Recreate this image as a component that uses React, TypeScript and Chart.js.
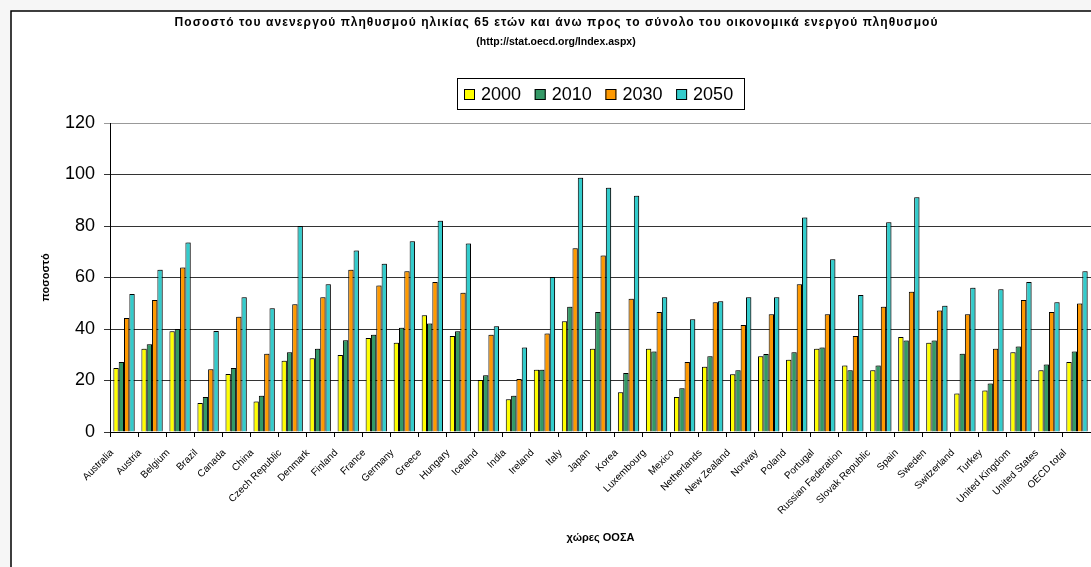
import React, { useEffect, useRef } from "react";
import { Chart, registerables } from "chart.js";

Chart.register(...registerables);

const titleLine1 =
  "Ποσοστό του ανενεργού πληθυσμού ηλικίας 65 ετών και άνω προς το σύνολο του οικονομικά ενεργού πληθυσμού";
const titleLine2 = "(http://stat.oecd.org/Index.aspx)";
const yTitle = "ποσοστό";
const xTitle = "χώρες ΟΟΣΑ";

const categories = [
  "Australia", "Austria", "Belgium", "Brazil", "Canada", "China", "Czech Republic",
  "Denmark", "Finland", "France", "Germany", "Greece", "Hungary", "Iceland", "India",
  "Ireland", "Italy", "Japan", "Korea", "Luxembourg", "Mexico", "Netherlands",
  "New Zealand", "Norway", "Poland", "Portugal", "Russian Federation", "Slovak Republic",
  "Spain", "Sweden", "Switzerland", "Turkey", "United Kingdom", "United States", "OECD total",
];

const seriesNames = ["2000", "2010", "2030", "2050"];

const values2000 = [
  24.9, 32.3, 39.1, 11.3, 22.5, 11.8, 27.7, 28.6, 29.9, 36.5, 34.7, 45.3, 37.3, 20.2, 12.7,
  24.2, 43.0, 32.3, 15.4, 32.3, 13.6, 25.3, 22.4, 29.4, 28.1, 32.3, 25.8, 24.0, 36.9, 34.7,
  15.0, 16.1, 31.0, 24.0, 27.2,
];
const values2010 = [
  27.2, 34.1, 40.0, 13.6, 24.9, 14.1, 31.0, 32.3, 35.6, 37.8, 40.5, 42.1, 39.1, 22.0, 14.1,
  24.2, 48.6, 46.6, 22.9, 31.3, 17.0, 29.4, 24.0, 30.3, 31.0, 32.8, 24.0, 25.8, 35.5, 35.5,
  30.4, 18.8, 33.2, 26.2, 31.3,
];
const values2030 = [
  44.3, 51.3, 63.9, 24.4, 44.8, 30.4, 49.6, 52.3, 63.0, 56.9, 62.4, 58.3, 54.1, 37.8, 20.6,
  38.3, 71.4, 68.5, 51.7, 46.6, 27.2, 50.4, 41.6, 45.7, 57.4, 45.7, 37.3, 48.6, 54.5, 47.2,
  45.7, 32.3, 51.3, 46.6, 49.9,
];
const values2050 = [
  53.6, 63.0, 73.6, 39.2, 52.3, 48.1, 80.0, 57.4, 70.5, 65.3, 74.1, 82.0, 73.2, 41.1, 32.8,
  60.2, 98.7, 94.9, 91.7, 52.3, 43.8, 50.8, 52.3, 52.3, 83.3, 67.1, 53.2, 81.5, 91.2, 49.0,
  56.0, 55.4, 58.3, 50.4, 62.4,
];

const seriesColors = ["#FFFF00", "#339966", "#FF9900", "#33CCCC"];

const yTicks = [0, 20, 40, 60, 80, 100, 120];

function fitText(ctx: CanvasRenderingContext2D, text: string, cx: number, cy: number, target: number) {
  (ctx as any).letterSpacing = "0px";
  const w = ctx.measureText(text).width;
  const ls = (target - w) / Math.max(1, text.length - 1);
  (ctx as any).letterSpacing = ls + "px";
  const w2 = ctx.measureText(text).width;
  ctx.textAlign = "left";
  ctx.fillText(text, cx - w2 / 2 + ls / 2, cy);
  (ctx as any).letterSpacing = "0px";
}

const decorPlugin = {
  id: "decor",
  beforeDraw(chart: any) {
    const ctx = chart.ctx as CanvasRenderingContext2D;
    const W = chart.width;
    const H = chart.height;
    ctx.save();
    ctx.fillStyle = "#f6f6f6";
    ctx.fillRect(0, 0, W, H);
    ctx.fillStyle = "#ffffff";
    ctx.fillRect(11, 11, W - 11, H - 11);
    ctx.strokeStyle = "#000";
    ctx.lineWidth = 1.5;
    ctx.beginPath();
    ctx.moveTo(11, H);
    ctx.lineTo(11, 11);
    ctx.lineTo(W, 11);
    ctx.stroke();
    ctx.restore();
  },
  beforeDatasetsDraw(chart: any) {
    const ctx = chart.ctx as CanvasRenderingContext2D;
    ctx.save();
    ctx.shadowColor = "rgba(0,0,0,0.25)";
    ctx.shadowOffsetX = 1.5;
    ctx.shadowOffsetY = -1;
    ctx.shadowBlur = 0;
  },
  afterDatasetsDraw(chart: any) {
    chart.ctx.restore();
  },
  afterDraw(chart: any) {
    const ctx = chart.ctx as CanvasRenderingContext2D;
    const area = chart.chartArea;
    ctx.save();
    ctx.fillStyle = "#000";
    ctx.textBaseline = "middle";
    // titles
    ctx.font = "bold 12px Arial, 'Liberation Sans', sans-serif";
    fitText(ctx, titleLine1, 556, 23, 763);
    ctx.font = "bold 10.5px Arial, 'Liberation Sans', sans-serif";
    ctx.textAlign = "center";
    ctx.fillText(titleLine2, 556, 42);

    // legend
    const lx = 457.5, ly = 78.5, lw = 287, lh = 31;
    ctx.fillStyle = "#fff";
    ctx.fillRect(lx, ly, lw, lh);
    ctx.strokeStyle = "#000";
    ctx.lineWidth = 1;
    ctx.strokeRect(lx, ly, lw, lh);
    ctx.font = "18px Arial, 'Liberation Sans', sans-serif";
    ctx.textAlign = "left";
    chart.data.datasets.forEach((ds: any, i: number) => {
      const x = 464 + i * 70.7;
      ctx.fillStyle = ds.backgroundColor;
      ctx.fillRect(x, 89, 11, 11);
      ctx.strokeStyle = "#000";
      ctx.strokeRect(x + 0.5, 89.5, 10, 10);
      ctx.fillStyle = "#000";
      ctx.fillText(ds.label, x + 17, 95);
    });

    // axis titles
    ctx.font = "bold 11px Arial, 'Liberation Sans', sans-serif";
    ctx.textAlign = "center";
    ctx.fillText(xTitle, (area.left + area.right) / 2, 538);
    ctx.translate(46, (area.top + area.bottom) / 2);
    ctx.rotate(-Math.PI / 2);
    ctx.fillText(yTitle, 0, 0);
    ctx.restore();
  },
};

export default function App() {
  const canvasRef = useRef<HTMLCanvasElement | null>(null);

  useEffect(() => {
    const canvas = canvasRef.current;
    if (!canvas) return;
    const datasetsValues = [values2000, values2010, values2030, values2050];
    const chart = new Chart(canvas, {
      type: "bar",
      data: {
        labels: categories,
        datasets: seriesNames.map((name, i) => ({
          label: name,
          data: datasetsValues[i],
          backgroundColor: seriesColors[i],
          borderColor: "#000",
          borderWidth: 1,
          categoryPercentage: 0.76,
          barPercentage: 1.0,
        })),
      },
      options: {
        responsive: false,
        animation: false,
        devicePixelRatio: 1,
        layout: { padding: { top: 123, left: 12, right: 0, bottom: 0 } },
        plugins: {
          legend: { display: false },
          title: { display: false },
          tooltip: { enabled: false },
        },
        scales: {
          x: {
            ticks: {
              autoSkip: false,
              maxRotation: 45,
              minRotation: 45,
              color: "#000",
              padding: 10,
              labelOffset: -12,
              font: { family: "Arial, 'Liberation Sans', sans-serif", size: 10 },
            },
            grid: {
              drawOnChartArea: false,
              offset: true,
              tickLength: 5,
              color: "#000",
            },
            border: { color: "#000", width: 1 },
            afterFit: (s: any) => {
              s.height = 135;
              s.paddingLeft = 0;
              s.paddingRight = 0;
            },
          },
          y: {
            min: 0,
            max: 120,
            afterBuildTicks: (s: any) => {
              s.ticks = yTicks.map((v) => ({ value: v }));
            },
            ticks: {
              color: "#000",
              padding: 9,
              font: { family: "Arial, 'Liberation Sans', sans-serif", size: 18 },
            },
            grid: {
              color: (c: any) => (c.tick && c.tick.value === 120 ? "#999" : "#333"),
              tickLength: 6,
            },
            border: { color: "#000", width: 1 },
            afterFit: (s: any) => {
              s.width = 98;
            },
          },
        },
      },
      plugins: [decorPlugin],
    });
    return () => chart.destroy();
  }, []);

  return (
    <div style={{ position: "absolute", left: 0, top: 0, width: 1091, height: 567 }}>
      <canvas ref={canvasRef} width={1091} height={567} style={{ display: "block" }} />
    </div>
  );
}
